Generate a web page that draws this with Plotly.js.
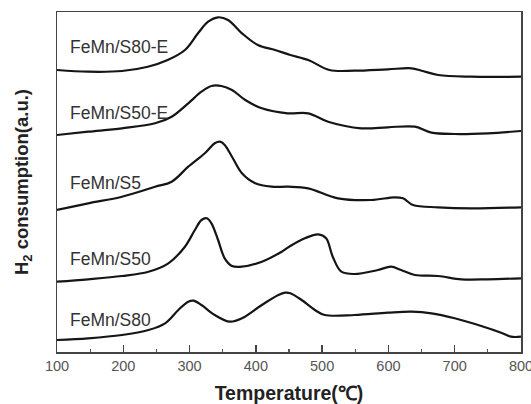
<!DOCTYPE html>
<html>
<head>
<meta charset="utf-8">
<script src="https://cdn.plot.ly/plotly-3.0.1.min.js"></script>
<style>html,body{margin:0;padding:0;background:#fff;}#chart{width:531px;height:404px;}</style>
</head>
<body>
<div id="chart"></div>
<script>
// Sample names (top to bottom)
const seriesNames = ["FeMn/S80-E", "FeMn/S50-E", "FeMn/S5", "FeMn/S50", "FeMn/S80"];

// Temperatures (°C) and H2 consumption (a.u., stacked offsets)
const tS80E = [100,147,198,237,267,293,313,328,343,358,379,403,429,452,479,511,549,599,635,650,675,725,800];
const yS80E = [282,280.3,281,285.3,292,302,319,330.3,334.7,332,318.7,307,302,297,292,282,281.3,282.7,283.7,281.3,277,275.3,275.3];

const tS50E = [100,147,198,248,273,298,318,333,348,364,384,409,448,479,509,559,599,640,665,700,750,800];
const yS50E = [217,220.3,223.7,228.7,235.3,248.7,260.3,266,266,262,252,243.7,238.7,238.7,230.3,223.7,224.7,225.3,219.3,218,218.7,221];

const tS5 = [100,147,198,248,273,298,323,338,346,353,364,379,399,424,449,479,524,574,609,622,637,675,725,800];
const yS5 = [142,148.7,155.3,165.3,170.3,185.3,198.7,208.7,210.3,207,195.3,178.7,168.7,165.3,165.3,163.7,153.7,152,154.7,153.7,147,144.7,143.7,144.7];

const tS50 = [100,147,198,238,268,293,308,318,326,333,343,353,364,379,409,439,452,474,494,506,516,529,549,584,604,619,640,675,710,750,800];
const yS50 = [70.3,72.7,76,80.3,88.7,105.3,122,132,133.7,128.7,112,93.7,86,85.3,90.3,100.3,106,113.7,117.7,113.7,95.3,80.3,78,82,85.3,82,77,76,72.7,72.7,73.7];

const tS80 = [100,147,198,238,263,283,298,306,318,338,361,379,409,434,444,452,469,489,504,549,599,635,665,700,740,770,785,800];
const yS80 = [12,13.7,17,22,28.7,42,50.3,51.3,47,37,30.3,33.7,47,57,59.3,58.7,52,42,37,37,39.3,40.3,38.7,33.7,26,19.3,15.3,15.3];

// Label vertical positions (a.u.) for each curve's name
const labelY = [305, 239, 169, 93, 32];

// Axis ticks
const xTickVals = [100,200,300,400,500,600,700,800];
const xTickText = ["100","200","300","400","500","600","700","800"];

const xs = [tS80E, tS50E, tS5, tS50, tS80];
const ys = [yS80E, yS50E, yS5, yS50, yS80];

const traces = seriesNames.map((name, i) => ({
  x: xs[i], y: ys[i], name: name, type: "scatter", mode: "lines",
  line: {color: "#151515", width: 2.2, shape: "spline", smoothing: 1},
  hoverinfo: "x+y+name"
}));

const annotations = seriesNames.map((name, i) => ({
  text: name, xref: "paper", yref: "y", x: 0.023, y: labelY[i],
  xanchor: "left", yanchor: "middle", showarrow: false,
  font: {family: "Arial, 'Liberation Sans', sans-serif", size: 17.5, color: "#333"}
}));

const layout = {
  width: 531, height: 404,
  margin: {l: 57, r: 10, t: 12, b: 52},
  paper_bgcolor: "#fff", plot_bgcolor: "#fff",
  showlegend: false,
  xaxis: {
    range: [100, 800], tickvals: xTickVals, ticktext: xTickText,
    ticks: "inside", ticklen: 7, tickwidth: 1.3, tickcolor: "#444",
    ticklabeloverflow: "allow",
    minor: {dtick: 50, ticks: "inside", ticklen: 3.5, tickwidth: 1.2, tickcolor: "#555"},
    showline: true, linecolor: "#444", linewidth: 1.5, mirror: true,
    showgrid: false, zeroline: false,
    tickfont: {family: "Arial, 'Liberation Sans', sans-serif", size: 14.5, color: "#555"},
    title: {text: "Temperature(℃)", standoff: 14,
      font: {family: "Arial, 'Liberation Sans', sans-serif", size: 19.5, color: "#222", weight: "bold"}}
  },
  yaxis: {
    range: [0, 340], showticklabels: false, ticks: "",
    showline: true, linecolor: "#444", linewidth: 1.5, mirror: true,
    showgrid: false, zeroline: false,
    title: {text: "H<sub>2</sub> consumption(a.u.)", standoff: 22,
      font: {family: "Arial, 'Liberation Sans', sans-serif", size: 18.5, color: "#222", weight: "bold"}}
  },
  annotations: annotations
};

Plotly.newPlot("chart", traces, layout, {displayModeBar: false, staticPlot: true});
</script>
</body>
</html>
